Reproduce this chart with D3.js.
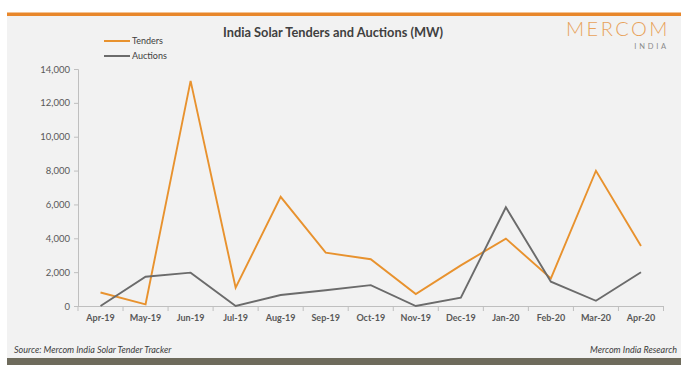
<!DOCTYPE html>
<html><head><meta charset="utf-8">
<script src="https://cdn.jsdelivr.net/npm/d3@7"></script>
<style>body{margin:0;background:#fff;}svg{display:block;}</style>
</head><body>
<svg id="c" width="691" height="365"></svg>
<script>
const categories = ["Apr-19","May-19","Jun-19","Jul-19","Aug-19","Sep-19","Oct-19","Nov-19","Dec-19","Jan-20","Feb-20","Mar-20","Apr-20"];
const tenders = [800, 100, 13300, 1080, 6450, 3150, 2760, 710, 2400, 3980, 1630, 7990, 3540];
const auctions = [0, 1730, 1970, 0, 650, 930, 1230, 0, 490, 5830, 1440, 310, 1990];
const yTicks = [0, 2000, 4000, 6000, 8000, 10000, 12000, 14000];
const seriesNames = ["Tenders", "Auctions"];
const colors = ["#E8922E", "#6b6b6b"];

const svg = d3.select("#c");
const font = "Lato, 'Open Sans', sans-serif";

// panel
svg.append("rect").attr("x",7).attr("y",16).attr("width",674).attr("height",342).attr("fill","#f2f2f2");
svg.append("rect").attr("x",7).attr("y",12.5).attr("width",674).attr("height",3.5).attr("fill","#E8872B");
svg.append("rect").attr("x",7).attr("y",358).attr("width",674).attr("height",7).attr("fill","#6e6b5c");

const x = d3.scaleBand().domain(categories).range([78, 663.5]);
const y = d3.scaleLinear().domain([0, 14000]).range([306, 69]);

// y axis
const yAxis = svg.append("g").attr("transform","translate(78,0)")
  .call(d3.axisLeft(y).tickValues(yTicks).tickSize(4).tickPadding(4).tickFormat(d3.format(",")));
yAxis.select(".domain").attr("stroke","#bfbfbf").attr("d","M-4,69.5H0.5V306");
yAxis.selectAll(".tick line").attr("stroke","#bfbfbf");
yAxis.selectAll("text").attr("font-family",font).attr("font-size",9.5).attr("fill","#595959");

// x axis
const xAxis = svg.append("g").attr("transform","translate(0,306)")
  .call(d3.axisBottom(x).tickSize(0).tickPadding(9));
xAxis.select(".domain").attr("stroke","#bfbfbf").attr("d","M78,0.5H663.5");
xAxis.selectAll("text").attr("font-family",font).attr("font-size",9).attr("font-weight","bold").attr("fill","#595959");
// boundary ticks
const bounds = categories.map(c => x(c)).concat([x(categories[categories.length-1]) + x.bandwidth()]);
svg.append("g").selectAll("line").data(bounds).join("line")
  .attr("x1", d => d).attr("x2", d => d).attr("y1", 306).attr("y2", 311)
  .attr("stroke","#bfbfbf");

// lines
const line = d3.line().x((d,i) => x(categories[i]) + x.bandwidth()/2).y(d => y(d));
[tenders, auctions].forEach((s, k) => {
  svg.append("path").datum(s).attr("d", line).attr("fill","none")
    .attr("stroke", colors[k]).attr("stroke-width", 1.9).attr("stroke-linejoin","miter");
});

// legend
seriesNames.forEach((n, k) => {
  const ly = 41 + k * 15;
  svg.append("line").attr("x1",104).attr("x2",130).attr("y1",ly).attr("y2",ly)
    .attr("stroke",colors[k]).attr("stroke-width",2);
  svg.append("text").attr("x",132).attr("y",ly+3).text(n)
    .attr("font-family",font).attr("font-size",9).attr("fill","#404040");
});

// title
svg.append("text").attr("x",333).attr("y",37).attr("text-anchor","middle")
  .text("India Solar Tenders and Auctions (MW)")
  .attr("font-family",font).attr("font-size",12.8).attr("font-weight","bold").attr("fill","#404040");

// logo
svg.append("text").attr("x",670).attr("y",36).attr("text-anchor","end")
  .text("MERCOM").attr("font-family",font).attr("font-size",20).attr("font-weight",300)
  .attr("letter-spacing",2.5).attr("fill","#E8A25A");
svg.append("text").attr("x",669).attr("y",49).attr("text-anchor","end")
  .text("INDIA").attr("font-family",font).attr("font-size",7.5).attr("letter-spacing",2.8)
  .attr("fill","#8a8a8a");

// footer
svg.append("text").attr("x",14).attr("y",353).text("Source: Mercom India Solar Tender Tracker")
  .attr("font-family",font).attr("font-size",9).attr("font-style","italic").attr("fill","#404040");
svg.append("text").attr("x",677).attr("y",353).attr("text-anchor","end").text("Mercom India Research")
  .attr("font-family",font).attr("font-size",9).attr("font-style","italic").attr("fill","#404040");
</script>
</body></html>
